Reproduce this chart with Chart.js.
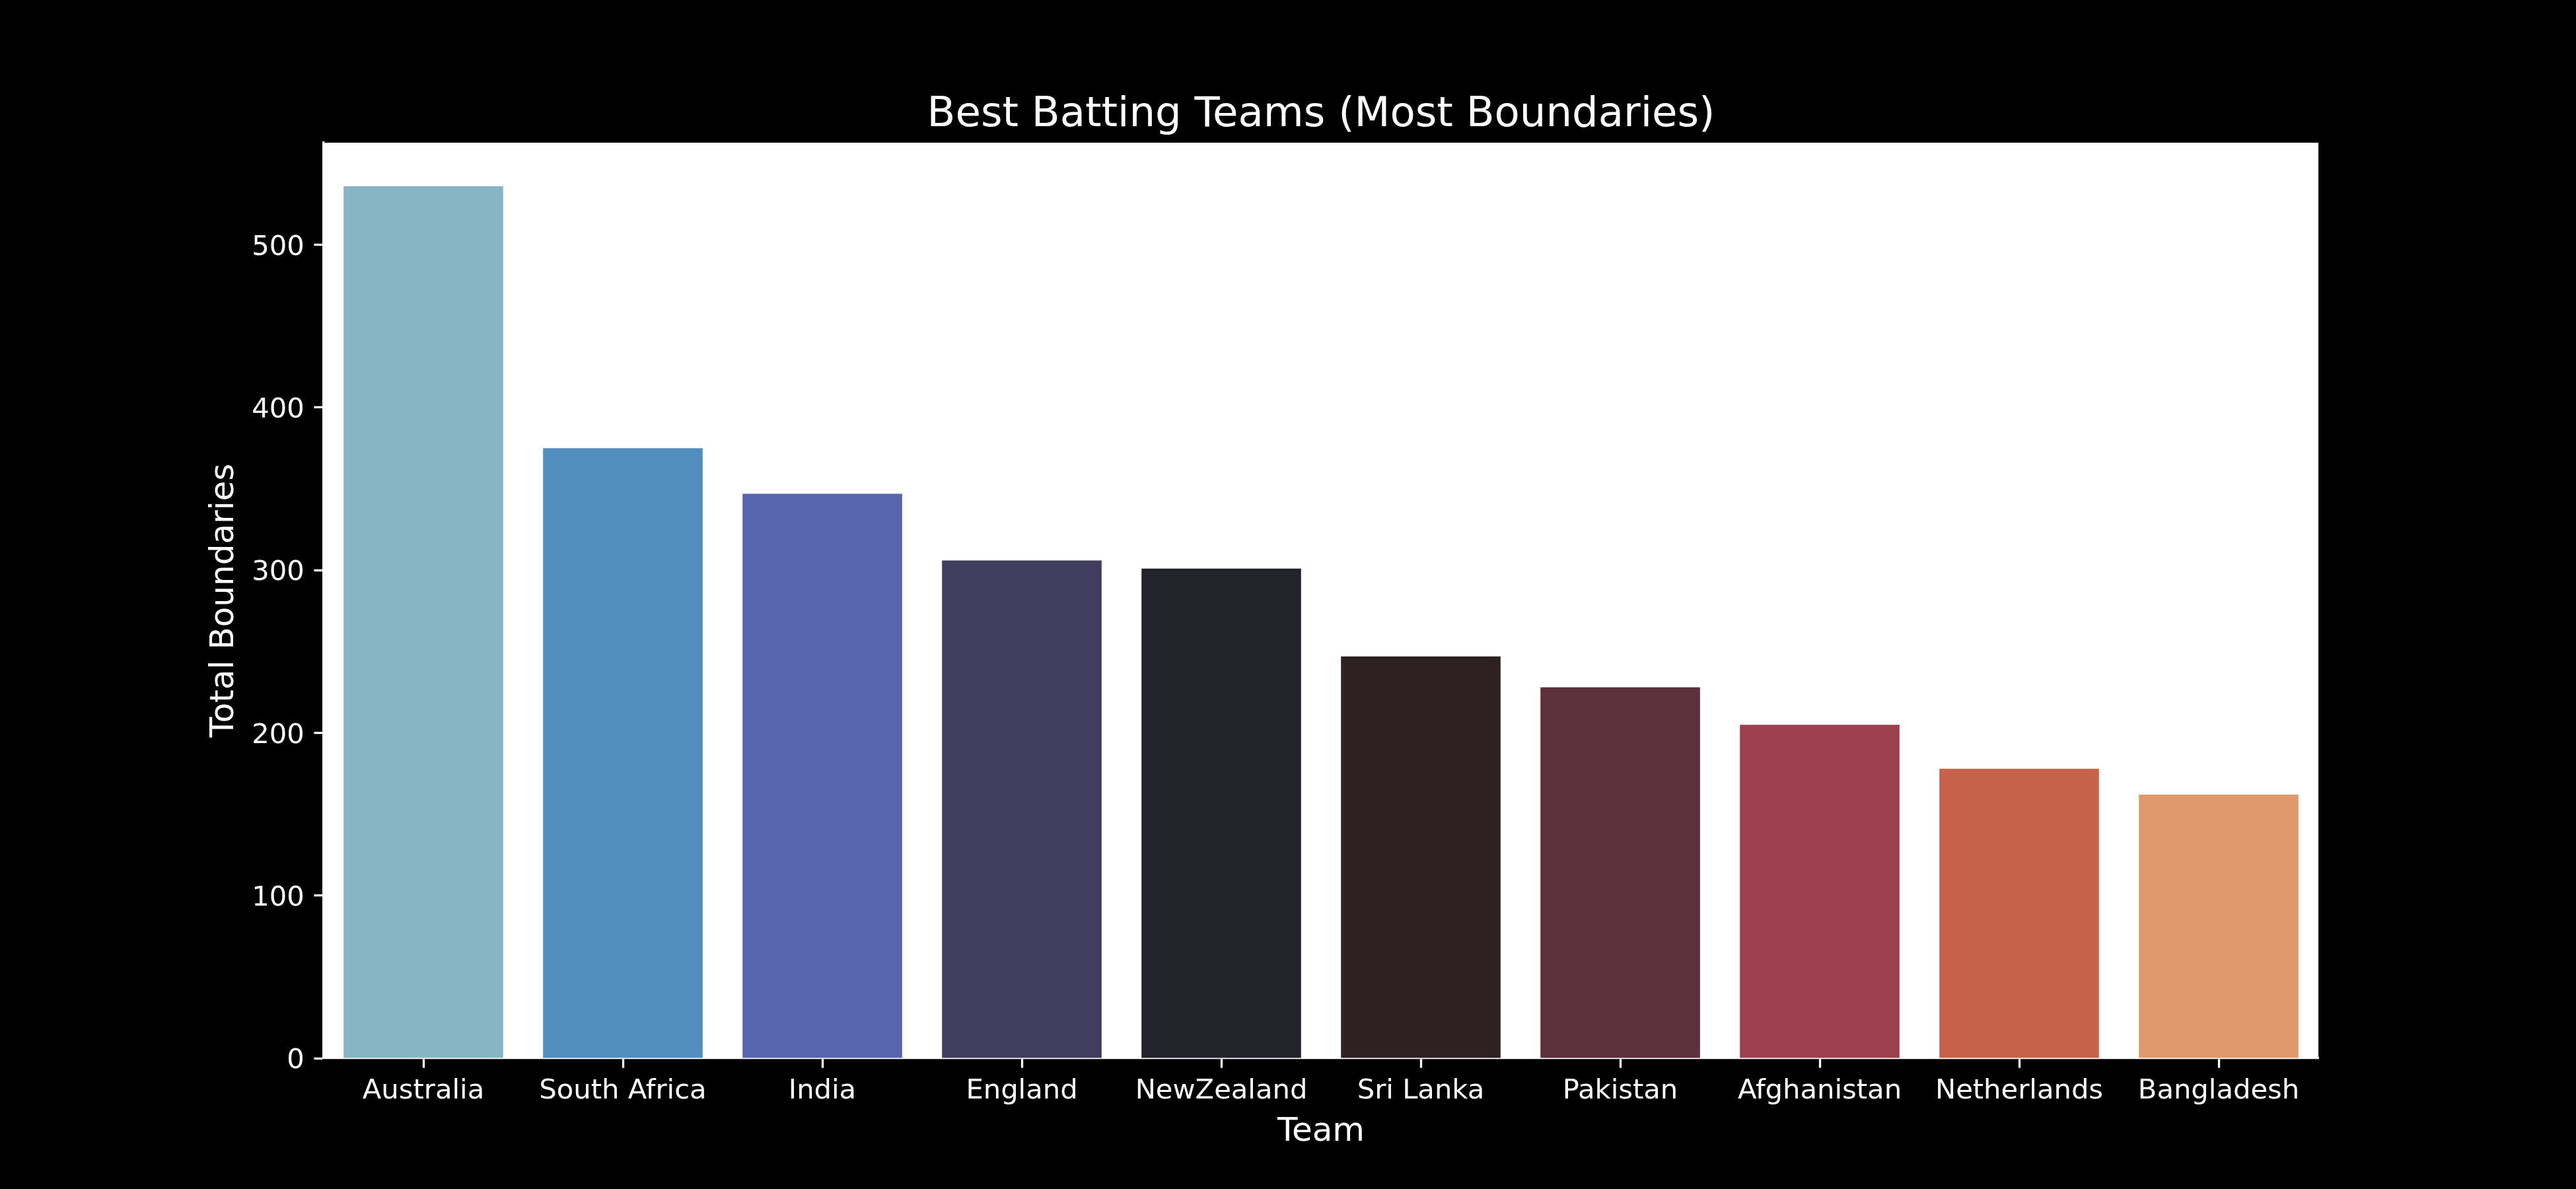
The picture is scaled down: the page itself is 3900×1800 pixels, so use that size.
<!DOCTYPE html>
<html>
<head>
<meta charset="utf-8">
<script src="https://cdn.jsdelivr.net/npm/chart.js@4.4.1/dist/chart.umd.min.js"></script>
<style>
  html, body { margin: 0; padding: 0; background: #000; }
  canvas { display: block; }
</style>
</head>
<body>
<canvas id="c" width="3900" height="1800"></canvas>
<script>
// ---- data ----
const teams = ["Australia", "South Africa", "India", "England", "NewZealand",
               "Sri Lanka", "Pakistan", "Afghanistan", "Netherlands", "Bangladesh"];
const boundaries = [536, 375, 347, 306, 301, 247, 228, 205, 178, 162];
const yTickValues = [0, 100, 200, 300, 400, 500];
const barColors = ["#88b5c4", "#518ebd", "#5665ad", "#403d5f", "#23242b",
                   "#2e2124", "#5d313c", "#9c4050", "#c7624a", "#e0996c"];
const chartTitle = "Best Batting Teams (Most Boundaries)";
const xTitle = "Team";
const yTitle = "Total Boundaries";

// ---- layout constants (matplotlib-like) ----
const W = 3900, H = 1800;
const AREA = { left: 490, right: 3510, top: 216, bottom: 1602 };
const TICK_FONT = 41.7, LABEL_FONT = 50, TITLE_FONT = 62.5;
const TICK_LEN = 14.6, TICK_W = 3.3;

Chart.defaults.font.family = "'DejaVu Sans', sans-serif";
Chart.defaults.color = "#ffffff";

const bgPlugin = {
  id: 'bg',
  beforeDraw(chart) {
    const ctx = chart.ctx, a = chart.chartArea;
    ctx.save();
    ctx.fillStyle = '#000000';
    ctx.fillRect(0, 0, chart.width, chart.height);
    ctx.fillStyle = '#ffffff';
    ctx.fillRect(a.left, a.top, a.right - a.left, a.bottom - a.top);
    ctx.restore();
  }
};

const yMax = Math.max(...boundaries) * 1.05;
const titlePadTop = 137.3;

new Chart(document.getElementById('c'), {
  type: 'bar',
  data: {
    labels: teams,
    datasets: [{
      data: boundaries,
      backgroundColor: barColors,
      borderWidth: 0,
      barPercentage: 0.8,
      categoryPercentage: 1.0
    }]
  },
  options: {
    responsive: false,
    animation: false,
    devicePixelRatio: 1,
    layout: { padding: { left: 0, top: 0, bottom: 0, right: W - AREA.right } },
    plugins: {
      legend: { display: false },
      tooltip: { enabled: false },
      title: {
        display: true,
        text: chartTitle,
        fullSize: false,
        color: '#ffffff',
        font: { size: TITLE_FONT, weight: 'normal', lineHeight: 1.2 },
        padding: { top: titlePadTop, bottom: AREA.top - titlePadTop - TITLE_FONT * 1.2 }
      }
    },
    scales: {
      x: {
        z: 1,
        offset: true,
        grid: {
          display: true,
          drawOnChartArea: false,
          drawTicks: true,
          offset: false,
          tickLength: TICK_LEN,
          tickWidth: TICK_W,
          tickColor: '#ffffff'
        },
        border: { display: true, color: '#ffffff', width: TICK_W },
        ticks: {
          color: '#ffffff',
          font: { size: TICK_FONT },
          padding: 10.6,
          maxRotation: 0,
          minRotation: 0,
          autoSkip: false
        },
        title: {
          display: true,
          text: xTitle,
          color: '#ffffff',
          font: { size: LABEL_FONT, lineHeight: 1.2 },
          padding: { top: 0, bottom: 56 }
        },
        afterFit(scale) { scale.height = H - AREA.bottom; }
      },
      y: {
        z: 1,
        min: 0,
        max: yMax,
        grid: {
          display: true,
          drawOnChartArea: false,
          drawTicks: true,
          tickLength: TICK_LEN,
          tickWidth: TICK_W,
          tickColor: '#ffffff'
        },
        border: { display: true, color: '#ffffff', width: TICK_W },
        ticks: {
          color: '#ffffff',
          font: { size: TICK_FONT },
          padding: TICK_LEN,
          labelOffset: 4.4
        },
        afterBuildTicks(scale) {
          scale.ticks = yTickValues.map(v => ({ value: v }));
        },
        title: {
          display: true,
          text: yTitle,
          color: '#ffffff',
          font: { size: LABEL_FONT, lineHeight: 1.2 },
          padding: { top: 309.7, bottom: 0 }
        },
        afterFit(scale) { scale.width = AREA.left; }
      }
    }
  },
  plugins: [bgPlugin]
});
</script>
</body>
</html>
